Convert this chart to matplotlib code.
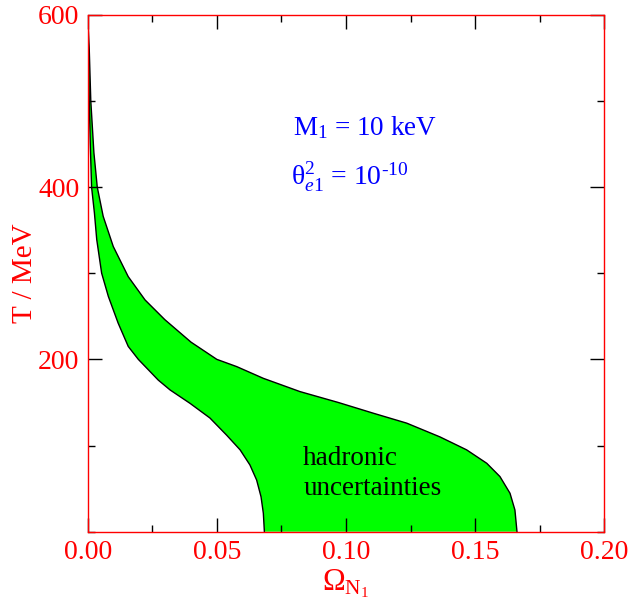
import matplotlib
matplotlib.use("Agg")
import matplotlib.pyplot as plt
from matplotlib.ticker import MultipleLocator, FormatStrFormatter

plt.rcParams['font.family'] = 'serif'
plt.rcParams['font.serif'] = ['Liberation Serif', 'DejaVu Serif']
plt.rcParams['mathtext.fontset'] = 'custom'
plt.rcParams['mathtext.rm'] = 'Liberation Serif'
plt.rcParams['mathtext.it'] = 'Liberation Serif:italic'

# left boundary of the band: Omega_N1, T [MeV]
left_omega = [0.0, 0.0003, 0.0006, 0.0010, 0.0015, 0.0026, 0.0035, 0.0054, 0.0080,
              0.0118, 0.0157, 0.0196, 0.0241, 0.0273, 0.0319, 0.0396, 0.0473, 0.0538,
              0.0590, 0.0628, 0.0654, 0.0671, 0.0680, 0.0684]
left_T = [600, 560, 500, 450, 400, 370, 339, 300, 273,
          242, 215, 200, 186, 176, 164.5, 149, 132, 112,
          95, 77.5, 60, 40.6, 21.4, 0]
# right boundary of the band: Omega_N1, T [MeV]
right_omega = [0.0, 0.0006, 0.0012, 0.0024, 0.0037, 0.0060, 0.0099, 0.0157, 0.0222,
               0.0299, 0.0400, 0.0500, 0.0577, 0.0680, 0.0822, 0.0970, 0.1106, 0.1235,
               0.1364, 0.1467, 0.1545, 0.1596, 0.1635, 0.1654, 0.1662]
right_T = [600, 560, 500, 440, 400, 366, 331, 296, 269,
           246, 220, 200, 191.6, 178, 162.6, 150, 137.5, 126,
           110, 95, 79.4, 64, 44.6, 25.2, 0]

red = '#ff0000'
fig = plt.figure(figsize=(6.30, 6.06), dpi=100)
ax = fig.add_axes([0.1392, 0.1226, 0.8200, 0.8531])

poly_x = left_omega + right_omega[::-1]
poly_y = left_T + right_T[::-1]
ax.fill(poly_x, poly_y, facecolor='#00ff00', edgecolor='none', zorder=1)
ax.plot(left_omega, left_T, color='black', lw=1.0, zorder=2)
ax.plot(right_omega, right_T, color='black', lw=1.0, zorder=2)

ax.set_xlim(0, 0.2)
ax.set_ylim(0, 600)
ax.xaxis.set_major_locator(MultipleLocator(0.05))
ax.xaxis.set_minor_locator(MultipleLocator(0.025))
ax.set_yticks([200, 400, 600])
ax.yaxis.set_minor_locator(MultipleLocator(100))
ax.xaxis.set_major_formatter(FormatStrFormatter('%.2f'))
ax.yaxis.set_major_formatter(FormatStrFormatter('%d'))

ax.tick_params(which='both', direction='in', top=True, right=True, color='black',
               labelcolor=red, labelsize=20, width=1.0)
ax.tick_params(which='major', length=10, pad=6)
ax.tick_params(which='minor', length=5)
for s in ax.spines.values():
    s.set_color(red)
    s.set_linewidth(1.0)

ax.set_ylabel('T / MeV', color=red, fontsize=21, labelpad=0)
ax.set_xlabel(r'$\Omega_{\mathrm{N}_1}$', color=red, fontsize=22, labelpad=2)

ax.text(0.0795, 460, r'M$_1$ = 10 keV', color='#0000ff', fontsize=19.5)
ax.text(0.0787, 402, r'$\mathrm{\theta}^2_{e1}$ = 10$^{\text{-10}}$', color='#0000ff', fontsize=20)
ax.text(0.0834, 42.6, 'hadronic\nuncertainties', color='black', fontsize=19.5,
        linespacing=1.25, va='baseline')

fig.savefig('out.png', dpi=100)
